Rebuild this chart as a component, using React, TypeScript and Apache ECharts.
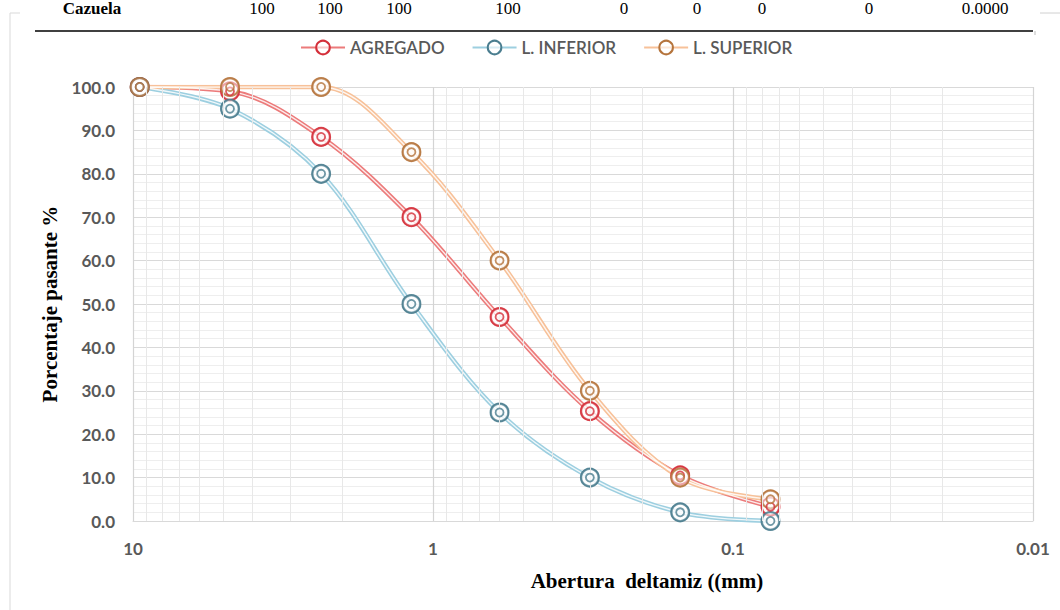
import React, { useEffect, useRef } from "react";
import * as echarts from "echarts";

const sieves = [9.5, 4.75, 2.36, 1.18, 0.6, 0.3, 0.15, 0.075];
const agregado = [100, 99, 88.5, 70, 47, 25.3, 10.5, 3.3];
const inferior = [100, 95, 80, 50, 25, 10, 2, 0];
const superior = [100, 100, 100, 85, 60, 30, 10, 5];
const xTickLabels = ["10", "1", "0.1", "0.01"];
const minorX = [9, 8, 7, 6, 5, 4, 3, 2, 0.9, 0.8, 0.7, 0.6, 0.5, 0.4, 0.3, 0.2, 0.09, 0.08, 0.07, 0.06, 0.05, 0.04, 0.03, 0.02];
const tableRow = ["100", "100", "100", "100", "0", "0", "0", "0", "0.0000"];
const tableX = [262, 330, 399, 508, 624, 697, 762, 869, 985];

const seriesDefs = [
  { name: "AGREGADO", values: agregado, line: "#ec7b7b", mark: "#d42f3a" },
  { name: "L. INFERIOR", values: inferior, line: "#9dcfe0", mark: "#4a7d8f" },
  { name: "L. SUPERIOR", values: superior, line: "#f7c199", mark: "#b5743c" },
];

const LABEL_FONT = "Lato, 'Open Sans', sans-serif";

export default function App() {
  const ref = useRef<HTMLDivElement>(null);
  useEffect(() => {
    document.body.style.margin = "0";
    if (!ref.current) return;
    const chart = echarts.init(ref.current, null, { renderer: "svg" });
    const pts = (vals: number[]) => sieves.map((s, i) => [s, vals[i]]);

    const thick = seriesDefs.map((d) => ({
      name: d.name,
      type: "line",
      smooth: 0.35,
      data: pts(d.values),
      symbol: "circle",
      symbolSize: 17,
      showSymbol: true,
      itemStyle: { color: "rgba(255,255,255,0.6)", borderColor: d.mark, borderWidth: 2 },
      lineStyle: { color: d.line, width: 4.5 },
      z: 3,
    }));
    const thin = seriesDefs.map((d) => ({
      name: d.name,
      type: "line",
      smooth: 0.35,
      data: pts(d.values),
      showSymbol: false,
      symbol: "none",
      lineStyle: { color: "rgba(255,255,255,0.85)", width: 1.4 },
      z: 3,
    }));
    const outer = seriesDefs.map((d) => ({
      name: d.name,
      type: "scatter",
      data: pts(d.values),
      symbol: "circle",
      symbolSize: 18,
      itemStyle: { color: "rgba(255,255,255,0.6)", borderColor: d.mark, borderWidth: 2 },
      z: 4,
    }));
    const inner = seriesDefs.map((d) => ({
      name: d.name,
      type: "scatter",
      data: pts(d.values),
      symbol: "circle",
      symbolSize: 8,
      itemStyle: { color: "rgba(255,255,255,0.6)", borderColor: d.mark, borderWidth: 1.8 },
      z: 5,
    }));

    const grid = {
      type: "line",
      name: "grid-helper",
      data: [],
      silent: true,
      z: 1,
      markLine: {
        silent: true,
        symbol: "none",
        label: { show: false },
        lineStyle: { color: "#e8e8e8", width: 1, type: "solid" },
        data: minorX.map((v) => ({ xAxis: v })),
      },
    };

    const textItems: any[] = [
      {
        type: "text",
        x: 92,
        y: 17,
        style: {
          text: "Cazuela",
          font: "bold 17px 'Liberation Serif', serif",
          fill: "#000",
          align: "center",
          verticalAlign: "bottom",
        },
      },
      ...tableRow.map((t, i) => ({
        type: "text",
        x: tableX[i],
        y: 17,
        style: {
          text: t,
          font: "17px 'Liberation Serif', serif",
          fill: "#000",
          align: "center",
          verticalAlign: "bottom",
        },
      })),
      { type: "line", shape: { x1: 35, y1: 31, x2: 1033, y2: 31 }, style: { stroke: "#000", lineWidth: 1.5 } },
      { type: "line", shape: { x1: 1035, y1: 31, x2: 1035, y2: 35 }, style: { stroke: "#bbb", lineWidth: 1 } },
      { type: "line", shape: { x1: 1040, y1: 13, x2: 1060, y2: 13 }, style: { stroke: "#d0d0d0", lineWidth: 1 } },
      { type: "line", shape: { x1: 10, y1: 13, x2: 10, y2: 610 }, style: { stroke: "#d9d9d9", lineWidth: 1 } },
      { type: "line", shape: { x1: 10, y1: 13, x2: 20, y2: 13 }, style: { stroke: "#d9d9d9", lineWidth: 1 } },
      {
        type: "text",
        x: 647,
        y: 581,
        style: {
          text: "Abertura  deltamiz ((mm)",
          font: "bold 21px 'Liberation Serif', serif",
          fill: "#000",
          align: "center",
          verticalAlign: "middle",
        },
      },
      {
        type: "text",
        x: 50,
        y: 304,
        rotation: Math.PI / 2,
        style: {
          text: "Porcentaje pasante %",
          font: "bold 21px 'Liberation Serif', serif",
          fill: "#000",
          align: "center",
          verticalAlign: "middle",
        },
      },
    ];

    chart.setOption({
      animation: false,
      backgroundColor: "#fff",
      grid: { left: 133, right: 27, top: 87, bottom: 89, containLabel: false },
      legend: {
        top: 34,
        left: 295,
        itemWidth: 44,
        itemHeight: 17,
        itemGap: 27,
        data: seriesDefs.map((d) => d.name),
        textStyle: { fontFamily: LABEL_FONT, fontSize: 17, color: "#595959", fontWeight: 600 },
      },
      xAxis: {
        type: "log",
        logBase: 10,
        min: 0.01,
        max: 10,
        inverse: true,
        axisLine: { show: true, lineStyle: { color: "#d9d9d9", width: 1 } },
        axisTick: { show: false },
        axisLabel: {
          margin: 19,
          fontFamily: LABEL_FONT,
          fontSize: 17,
          fontWeight: "bold",
          color: "#595959",
          formatter: (v: number) => {
            const s = String(+v.toPrecision(3));
            return xTickLabels.includes(s) ? s : "";
          },
        },
        splitLine: { show: true, lineStyle: { color: "#d4d4d4", width: 1.2 } },
      },
      yAxis: {
        type: "value",
        min: 0,
        max: 100,
        interval: 10,
        axisLine: { show: false },
        axisTick: { show: false },
        axisLabel: {
          margin: 18,
          fontFamily: LABEL_FONT,
          fontSize: 17,
          fontWeight: "bold",
          color: "#595959",
          formatter: (v: number) => v.toFixed(1),
        },
        splitLine: { show: true, lineStyle: { color: "#d9d9d9", width: 1.2 } },
        minorTick: { show: false, splitNumber: 5 },
        minorSplitLine: { show: true, lineStyle: { color: "#eeeeee", width: 1 } },
      },
      graphic: textItems,
      series: [grid, ...thick, ...thin, ...outer, ...inner],
    });
    return () => chart.dispose();
  }, []);
  return <div ref={ref} style={{ width: 1060, height: 610 }} />;
}
